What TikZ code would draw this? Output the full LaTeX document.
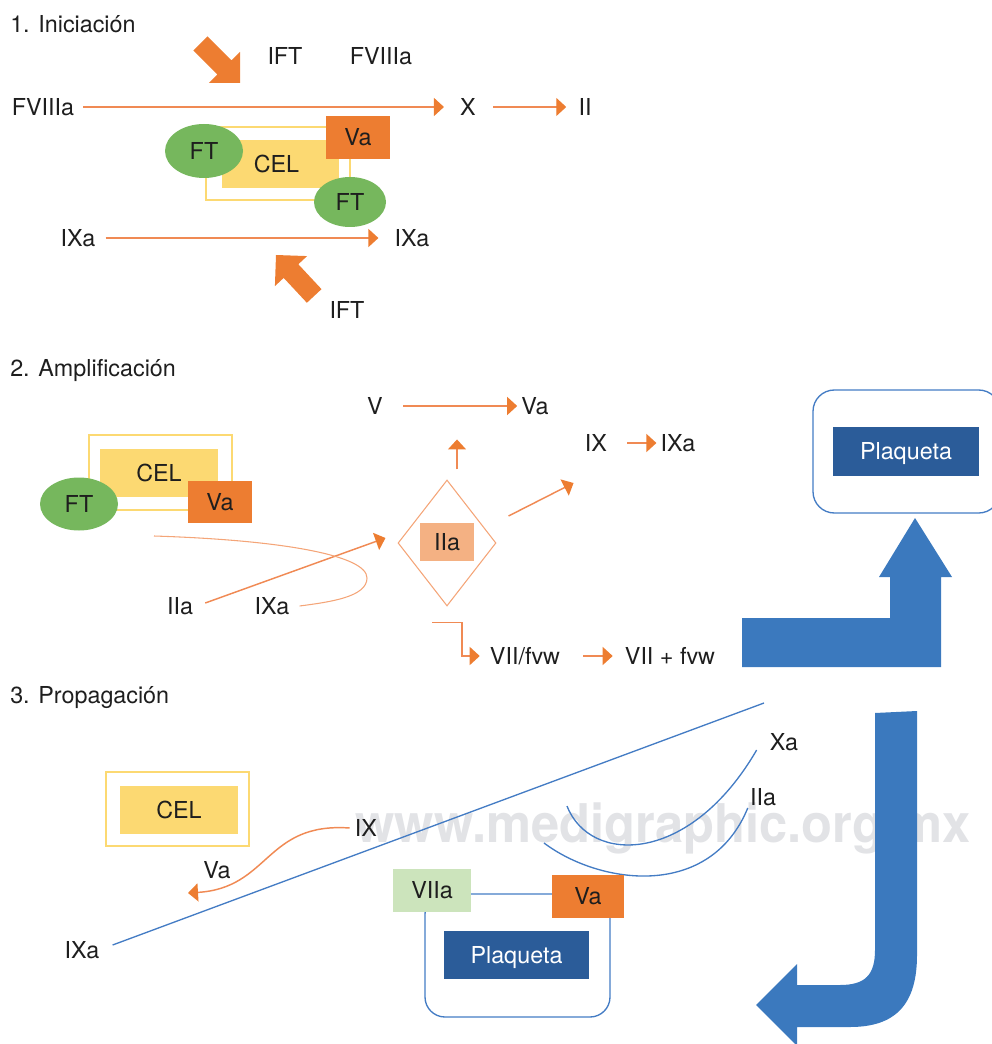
\documentclass[tikz,border=0pt]{standalone}
\usepackage{fontspec}
\setmainfont{TeX Gyre Heros}
\usetikzlibrary{arrows.meta,shapes.geometric,calc}
\definecolor{org}{RGB}{237,125,49}
\definecolor{orgln}{RGB}{240,138,84}
\definecolor{orgl}{RGB}{244,165,120}
\definecolor{orgbox}{RGB}{244,177,131}
\definecolor{yel}{RGB}{252,217,114}
\definecolor{grn}{RGB}{118,183,93}
\definecolor{grnl}{RGB}{204,228,188}
\definecolor{bl}{RGB}{68,124,196}
\definecolor{bld}{RGB}{43,92,153}
\definecolor{bla}{RGB}{59,121,190}
\definecolor{wm}{RGB}{226,227,230}
\definecolor{txtc}{RGB}{30,30,30}
\newcommand\myfs{\fontsize{17.5}{20}\selectfont}
\begin{document}
\begin{tikzpicture}[x=0.75pt,y=-0.75pt,
  txt/.style={inner sep=0pt, text=txtc, font=\myfs, text height=12.6pt, text depth=0pt},
  title/.style={txt, anchor=west},
  oline/.style={draw=orgln, line width=1.1pt},
  oarr/.style={oline, -{Triangle[length=7.5pt,width=13.5pt,color=org]}},
  bline/.style={draw=bl, line width=1pt},
  rbox/.style={rectangle, inner sep=0pt, text=txtc, font=\myfs, text height=12.6pt, text depth=0pt},
  yout/.style={rectangle, draw=yel, line width=1pt, inner sep=0pt},
  ftell/.style={ellipse, fill=grn, inner sep=0pt, text=txtc, font=\myfs, text height=12.6pt, text depth=0pt},
  fat/.style={fill=org, draw=none},
  bigb/.style={fill=bla, draw=none}]
\useasboundingbox (0,0) rectangle (991,1044);

% watermark
\node[anchor=base west, inner sep=0pt, text=wm, font=\fontsize{40}{44}\bfseries\selectfont] (wmk) at (355,842) {\scalebox{0.95}[1]{www.medigraphic.org.mx}};

% ================= 1. Iniciacion
\node[title] (t1) at (10,24) {1. Iniciación};
\node[txt] (ift1) at (285,56) {IFT};
\node[txt] (fv1) at (381,56) {FVIIIa};
\node[txt] (fv) at (43,107) {FVIIIa};
\node[txt] (x) at (468,107) {X};
\node[txt] (ii) at (585,107) {II};
\draw[oarr] ($(fv.east)+(9,0)$) -- ($(x.west)+(-16,0)$);
\draw[oarr] ($(x.east)+(17,0)$) -- ($(ii.west)+(-12,0)$);

\begin{scope}[shift={(240,83)}, rotate=-45]
  \fill[fat] (0,0) -- (-22,-22) -- (-22,-10) -- (-56,-10) -- (-56,10) -- (-22,10) -- (-22,22) -- cycle;
\end{scope}
\begin{scope}[shift={(276,255)}, rotate=133]
  \fill[fat] (0,0) -- (-22,-22) -- (-22,-10) -- (-56,-10) -- (-56,10) -- (-22,10) -- (-22,22) -- cycle;
\end{scope}

\node[yout, minimum width=144*0.75pt, minimum height=73*0.75pt] (out1) at (278,163.5) {};
\node[rbox, fill=yel, minimum width=117*0.75pt, minimum height=48*0.75pt] (cel1) at (280.5,164) {\hspace*{-6pt}CEL};
\node[rbox, fill=org, minimum width=64*0.75pt, minimum height=43*0.75pt] (va1) at (358,137.5) {Va};
\node[ftell, minimum width=78*0.75pt, minimum height=54*0.75pt] (ft1a) at (204,151) {FT};
\node[ftell, minimum width=72*0.75pt, minimum height=50*0.75pt] (ft1b) at (350,202) {FT};

\node[txt] (ixa1) at (78,238) {IXa};
\node[txt] (ixa1b) at (412,238) {IXa};
\draw[oarr] ($(ixa1.east)+(10,0)$) -- ($(ixa1b.west)+(-16,0)$);
\node[txt] (ift2) at (347,310) {IFT};

% ================= 2. Amplificacion
\node[title] (t2) at (10,368) {2. Amplificación};
\node[txt] (v2) at (375,406) {V};
\node[txt] (va2t) at (535,406) {Va};
\draw[oarr] ($(v2.east)+(20,0)$) -- ($(va2t.west)+(-4,0)$);
\node[txt] (ix2) at (596,443) {IX};
\node[txt] (ixa2) at (678,443) {IXa};
\draw[oarr] ($(ix2.east)+(20,0)$) -- ($(ixa2.west)+(-4,0)$);

\node[yout, minimum width=143*0.75pt, minimum height=75*0.75pt] (out2) at (160.5,472.5) {};
\node[rbox, fill=yel, minimum width=118*0.75pt, minimum height=48*0.75pt] (cel2) at (159,473) {CEL};
\node[rbox, fill=org, minimum width=64*0.75pt, minimum height=42*0.75pt] (va2) at (220,502) {Va};
\node[ftell, minimum width=78*0.75pt, minimum height=53*0.75pt] (ft2) at (79,504) {FT};

\node[diamond, draw=orgl, line width=0.8pt, inner sep=0pt, minimum width=98*0.75pt, minimum height=126*0.75pt] (dia) at (447,543) {};
\node[rbox, fill=orgbox, minimum width=54*0.75pt, minimum height=38*0.75pt] (iia2) at (447,542) {IIa};
\draw[oarr] ($(dia.north)+(10,-10)$) -- ($(dia.north)+(10,-40)$);
\draw[oarr] ($(dia.east)+(12,-27)$) -- ($(dia.east)+(77,-60)$);

\node[txt] (iial) at (180,606) {IIa};
\node[txt] (ixal) at (272,606) {IXa};
\draw[oarr] ($(iial.east)+(12,-3)$) -- ($(dia.west)+(-12,-5)$);
\draw[draw=orgl, line width=0.8pt] (154,536) .. controls (280,540) and (367,555) .. (367,578)
      .. controls (367,597) and (330,602) .. ($(ixal.east)+(10,0)$);

\node[txt] (vii) at (525,656) {VII/fvw};
\node[txt] (viif) at (670,656) {VII + fvw};
\draw[oarr] ($(dia.south)+(-15,16)$) -- ++(30,0) |- ($(vii.west)+(-10,0)$);
\draw[oarr] ($(vii.east)+(23,0)$) -- ($(viif.west)+(-12,0)$);

\node[rectangle, draw=bl, line width=1pt, rounded corners=16pt, minimum width=187*0.75pt, minimum height=123*0.75pt] (pl2f) at (906.5,451.5) {};
\node[rbox, fill=bld, text=white, minimum width=146*0.75pt, minimum height=49*0.75pt] (pl2) at (906,451.5) {Plaqueta};

\fill[bigb] (742,618) -- (890,618) -- (890,577) -- (879,577) -- (915,518) -- (952,577) -- (941,577) -- (941,667) -- (742,667) -- cycle;

% ================= 3. Propagacion
\node[title] (t3) at (10,695) {3. Propagación};
\node[txt] (ixa3) at (82,950) {IXa};
\coordinate (l3end) at (764,703);
\draw[bline] ($(ixa3.east)+(13,-5)$) -- (l3end);

\node[yout, minimum width=143*0.75pt, minimum height=74*0.75pt] (out3) at (177.5,809) {};
\node[rbox, fill=yel, minimum width=118*0.75pt, minimum height=48*0.75pt] (cel3) at (179,810) {CEL};

\node[txt] (ix3) at (366,828) {IX};
\node[txt] (va3t) at (217,870) {Va};
\coordinate (va3tip) at (188,893);
\draw[oarr] ($(ix3.west)+(-5,0)$) .. controls (265,822) and (270,888) .. (va3tip);

\node[txt] (xa3) at (784,742) {Xa};
\node[txt] (iia3) at (763,797) {IIa};
\draw[bline] (567,806) .. controls (590,865) and (690,865) .. ($(xa3.west)+(-13,8)$);
\draw[bline] (544,843) .. controls (600,885) and (710,900) .. ($(iia3.west)+(-2,11)$);

\node[rectangle, draw=bl, line width=1pt, rounded corners=15pt, minimum width=185*0.75pt, minimum height=123*0.75pt] (fr3) at (517.5,955.5) {};
\node[rbox, fill=grnl, minimum width=78*0.75pt, minimum height=43*0.75pt] (viia) at (432,890.5) {VIIa};
\node[rbox, fill=org, minimum width=72*0.75pt, minimum height=43*0.75pt] (va3) at (588,896.5) {Va};
\node[rbox, fill=bld, text=white, minimum width=145*0.75pt, minimum height=48*0.75pt] (pl3) at (516.5,955) {Plaqueta};

\fill[bigb] (875,713) -- (917,711) -- (917,955) .. controls (917,1005) and (895,1027) .. (850,1027) -- (797,1027) -- (797,1046) -- (756,1005) -- (797,964) -- (797,985) -- (840,985) .. controls (865,985) and (875,975) .. (875,950) -- cycle;
\end{tikzpicture}
\end{document}
